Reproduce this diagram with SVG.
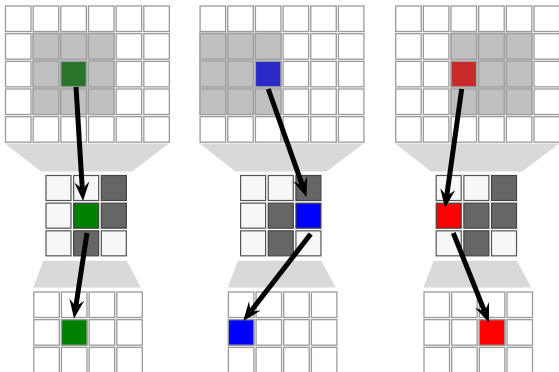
<svg xmlns="http://www.w3.org/2000/svg" width="559" height="372" viewBox="0 0 559 372">
<defs>
<style>
.w{fill:#ffffff;stroke:#9a9a9a;stroke-width:1.3}
.g{fill:#c0c0c0;stroke:#a0a0a0;stroke-width:1.3}
.l{fill:#f7f7f7;stroke:#555;stroke-width:1.2}
.d{fill:#666666;stroke:#444;stroke-width:1.2}
.hl{fill:#c0c0c0}
.tz{fill:#d9d9d9}
.arr{stroke:#000;stroke-width:5;fill:none;marker-end:url(#ah)}
</style>
<marker id="ah" markerUnits="userSpaceOnUse" viewBox="-8 -9 22 18" refX="0" refY="0" markerWidth="22" markerHeight="18" orient="auto">
<path d="M12,0 L-7,-7.5 L0,0 L-7,7.5 Z" fill="#000"/>
</marker>
<g id="row6w">
<rect class="w" x="0" y="0" width="25.5" height="25.5"/>
<rect class="w" x="27.67" y="0" width="25.5" height="25.5"/>
<rect class="w" x="55.33" y="0" width="25.5" height="25.5"/>
<rect class="w" x="83" y="0" width="25.5" height="25.5"/>
<rect class="w" x="110.67" y="0" width="25.5" height="25.5"/>
<rect class="w" x="138.33" y="0" width="25.5" height="25.5"/>
</g>
<g id="row4w">
<rect class="w" x="0" y="0" width="25.5" height="25.5"/>
<rect class="w" x="27.67" y="0" width="25.5" height="25.5"/>
<rect class="w" x="55.33" y="0" width="25.5" height="25.5"/>
<rect class="w" x="83" y="0" width="25.5" height="25.5"/>
</g>
<g id="top">
<use href="#row6w" x="5.5" y="6"/>
<use href="#row6w" x="5.5" y="33.67"/>
<use href="#row6w" x="5.5" y="61.33"/>
<use href="#row6w" x="5.5" y="89"/>
<use href="#row6w" x="5.5" y="116.67"/>
<polygon class="tz" points="5,143.5 169,143.5 132,171.5 41,171.5"/>
<polygon class="tz" points="43.3,260.7 126.7,260.7 141,287.5 33.3,287.5"/>
<use href="#row4w" x="33.8" y="292"/>
<use href="#row4w" x="33.8" y="319.67"/>
<use href="#row4w" x="33.8" y="347.33"/>
</g>
</defs>

<g id="panel1">
<use href="#top"/>
<rect class="hl" x="32.2" y="32.2" width="83" height="83"/>
<g>
<rect class="g" x="33.17" y="33.67" width="25.5" height="25.5"/>
<rect class="g" x="60.83" y="33.67" width="25.5" height="25.5"/>
<rect class="g" x="88.5" y="33.67" width="25.5" height="25.5"/>
<rect class="g" x="33.17" y="61.33" width="25.5" height="25.5"/>
<rect x="60.83" y="61.33" width="25.5" height="25.5" fill="#2a732a" stroke="#a0a0a0" stroke-width="1.3"/>
<rect class="g" x="88.5" y="61.33" width="25.5" height="25.5"/>
<rect class="g" x="33.17" y="89" width="25.5" height="25.5"/>
<rect class="g" x="60.83" y="89" width="25.5" height="25.5"/>
<rect class="g" x="88.5" y="89" width="25.5" height="25.5"/>
</g>
<g id="mid1">
<rect class="l" x="46" y="175.5" width="25" height="25"/>
<rect class="l" x="73.67" y="175.5" width="25" height="25"/>
<rect class="d" x="101.33" y="175.5" width="25" height="25"/>
<rect class="l" x="46" y="203.17" width="25" height="25"/>
<rect x="73.67" y="203.17" width="25" height="25" fill="#008000" stroke="#444" stroke-width="1.2"/>
<rect class="d" x="101.33" y="203.17" width="25" height="25"/>
<rect class="l" x="46" y="230.83" width="25" height="25"/>
<rect class="d" x="73.67" y="230.83" width="25" height="25"/>
<rect class="l" x="101.33" y="230.83" width="25" height="25"/>
</g>
<rect x="61.5" y="319.67" width="25.5" height="25.5" fill="#008000" stroke="#9a9a9a" stroke-width="1.3"/>
</g>

<g id="panel2" transform="translate(194.6,0)">
<use href="#top"/>
<rect class="hl" x="4.5" y="32.2" width="83" height="83"/>
<g>
<rect class="g" x="5.5" y="33.67" width="25.5" height="25.5"/>
<rect class="g" x="33.17" y="33.67" width="25.5" height="25.5"/>
<rect class="g" x="60.83" y="33.67" width="25.5" height="25.5"/>
<rect class="g" x="5.5" y="61.33" width="25.5" height="25.5"/>
<rect class="g" x="33.17" y="61.33" width="25.5" height="25.5"/>
<rect x="60.83" y="61.33" width="25.5" height="25.5" fill="#2929c8" stroke="#a0a0a0" stroke-width="1.3"/>
<rect class="g" x="5.5" y="89" width="25.5" height="25.5"/>
<rect class="g" x="33.17" y="89" width="25.5" height="25.5"/>
<rect class="g" x="60.83" y="89" width="25.5" height="25.5"/>
</g>
<g id="mid2">
<rect class="l" x="46" y="175.5" width="25" height="25"/>
<rect class="l" x="73.67" y="175.5" width="25" height="25"/>
<rect class="d" x="101.33" y="175.5" width="25" height="25"/>
<rect class="l" x="46" y="203.17" width="25" height="25"/>
<rect class="d" x="73.67" y="203.17" width="25" height="25"/>
<rect x="101.33" y="203.17" width="25" height="25" fill="#0000ff" stroke="#444" stroke-width="1.2"/>
<rect class="l" x="46" y="230.83" width="25" height="25"/>
<rect class="d" x="73.67" y="230.83" width="25" height="25"/>
<rect class="l" x="101.33" y="230.83" width="25" height="25"/>
</g>
<rect x="33.8" y="319.67" width="25.5" height="25.5" fill="#0000ff" stroke="#9a9a9a" stroke-width="1.3"/>
</g>

<g id="panel3" transform="translate(390.2,0)">
<use href="#top"/>
<rect class="hl" x="59.9" y="32.2" width="83" height="83"/>
<g>
<rect class="g" x="60.83" y="33.67" width="25.5" height="25.5"/>
<rect class="g" x="88.5" y="33.67" width="25.5" height="25.5"/>
<rect class="g" x="116.17" y="33.67" width="25.5" height="25.5"/>
<rect x="60.83" y="61.33" width="25.5" height="25.5" fill="#c82929" stroke="#a0a0a0" stroke-width="1.3"/>
<rect class="g" x="88.5" y="61.33" width="25.5" height="25.5"/>
<rect class="g" x="116.17" y="61.33" width="25.5" height="25.5"/>
<rect class="g" x="60.83" y="89" width="25.5" height="25.5"/>
<rect class="g" x="88.5" y="89" width="25.5" height="25.5"/>
<rect class="g" x="116.17" y="89" width="25.5" height="25.5"/>
</g>
<g id="mid3">
<rect class="l" x="46" y="175.5" width="25" height="25"/>
<rect class="l" x="73.67" y="175.5" width="25" height="25"/>
<rect class="d" x="101.33" y="175.5" width="25" height="25"/>
<rect x="46" y="203.17" width="25" height="25" fill="#ff0000" stroke="#444" stroke-width="1.2"/>
<rect class="d" x="73.67" y="203.17" width="25" height="25"/>
<rect class="d" x="101.33" y="203.17" width="25" height="25"/>
<rect class="l" x="46" y="230.83" width="25" height="25"/>
<rect class="d" x="73.67" y="230.83" width="25" height="25"/>
<rect class="l" x="101.33" y="230.83" width="25" height="25"/>
</g>
<rect x="89.13" y="319.67" width="25.5" height="25.5" fill="#ff0000" stroke="#9a9a9a" stroke-width="1.3"/>
</g>

<g id="connectors">
<line class="arr" x1="76" y1="87" x2="82.3" y2="189"/>
<line class="arr" x1="87" y1="233" x2="75.8" y2="306.6"/>
<line class="arr" x1="268.3" y1="89" x2="302.5" y2="185.7"/>
<line class="arr" x1="310.7" y1="234" x2="250.6" y2="311.5"/>
<line class="arr" x1="461.7" y1="89" x2="446.7" y2="196.1"/>
<line class="arr" x1="453.3" y1="233" x2="484.6" y2="311.4"/>
</g>
</svg>
